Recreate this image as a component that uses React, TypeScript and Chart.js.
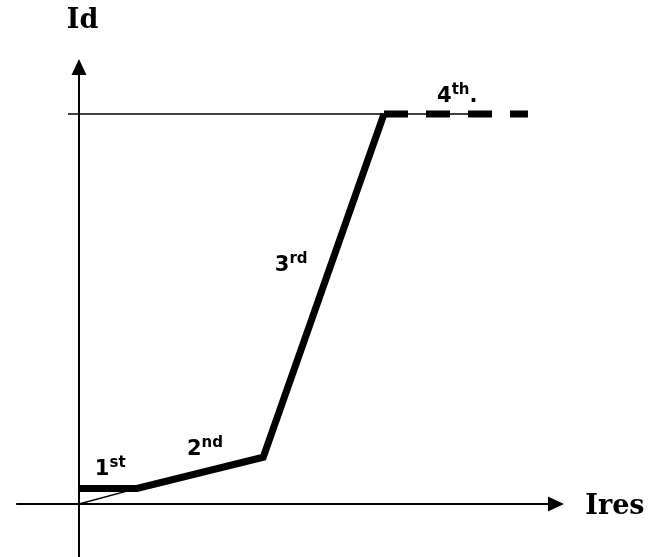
import React, { useEffect, useRef } from "react";
import { Chart, registerables } from "chart.js";

Chart.register(...registerables);

// Characteristic curve (Ires -> Id), in relative units
const curveIres = [0, 0.95, 3.02, 5.0];
const curveId = [0.4, 0.4, 1.2, 10];
// 4th slope (dashed continuation)
const dashIres = [5.0, 7.36];
const dashId = [10, 10];
// thin reference line from origin
const refIres = [0, 0.95];
const refId = [0, 0.4];
// thin horizontal limit line
const limitIres = [-0.18, 6.74];
const limitId = [10, 10];

// slope labels
const segmentMain = ["1", "2", "3", "4"];
const segmentSup = ["st", "nd", "rd", "th"];
const segmentTail = ["", "", "", "."];
const labelIres = [0.26, 1.77, 3.21, 5.87];
const labelId = [0.74, 1.26, 5.97, 10.31];

// axes
const xAxisTitle = "Ires";
const yAxisTitle = "Id";
const xAxisFrom = -1.03;
const xAxisTip = 7.95;
const yAxisFrom = -1.36;
const yAxisTip = 11.41;
const xTitlePos = [8.3, -0.26];
const yTitlePos = [-0.2, 12.2];

const toPts = (xs: number[], ys: number[]) => xs.map((x, i) => ({ x, y: ys[i] }));

const overlay = {
  id: "overlay",
  beforeDatasetsDraw(chart: any) {
    const { ctx, scales } = chart;
    const xs = scales.x;
    const ys = scales.y;
    const x0 = xs.getPixelForValue(0);
    const y0 = ys.getPixelForValue(0);
    ctx.save();
    ctx.strokeStyle = "#000";
    ctx.fillStyle = "#000";
    ctx.lineWidth = 2;
    // x axis
    const xl = xs.getPixelForValue(xAxisFrom);
    const xt = xs.getPixelForValue(xAxisTip);
    ctx.beginPath();
    ctx.moveTo(xl, y0);
    ctx.lineTo(xt - 14, y0);
    ctx.stroke();
    ctx.beginPath();
    ctx.moveTo(xt, y0);
    ctx.lineTo(xt - 16, y0 - 7.5);
    ctx.lineTo(xt - 16, y0 + 7.5);
    ctx.closePath();
    ctx.fill();
    // y axis
    const yb = ys.getPixelForValue(yAxisFrom);
    const yt = ys.getPixelForValue(yAxisTip);
    ctx.beginPath();
    ctx.moveTo(x0, yb);
    ctx.lineTo(x0, yt + 14);
    ctx.stroke();
    ctx.beginPath();
    ctx.moveTo(x0, yt);
    ctx.lineTo(x0 - 7.5, yt + 16);
    ctx.lineTo(x0 + 7.5, yt + 16);
    ctx.closePath();
    ctx.fill();
    ctx.restore();
  },
  afterDatasetsDraw(chart: any) {
    const { ctx, scales } = chart;
    const xs = scales.x;
    const ys = scales.y;
    ctx.save();
    ctx.fillStyle = "#000";
    ctx.textBaseline = "alphabetic";
    ctx.textAlign = "left";
    // axis titles
    ctx.font = "bold 27px 'DejaVu Serif'";
    ctx.fillText(xAxisTitle, xs.getPixelForValue(xTitlePos[0]), ys.getPixelForValue(xTitlePos[1]));
    ctx.fillText(yAxisTitle, xs.getPixelForValue(yTitlePos[0]), ys.getPixelForValue(yTitlePos[1]));
    // segment labels
    for (let i = 0; i < segmentMain.length; i++) {
      const px = xs.getPixelForValue(labelIres[i]);
      const py = ys.getPixelForValue(labelId[i]);
      ctx.font = "bold 21px 'DejaVu Sans'";
      ctx.fillText(segmentMain[i], px, py);
      let w = ctx.measureText(segmentMain[i]).width;
      ctx.font = "bold 15px 'DejaVu Sans'";
      ctx.fillText(segmentSup[i], px + w, py - 8);
      w += ctx.measureText(segmentSup[i]).width;
      if (segmentTail[i]) {
        ctx.font = "bold 21px 'DejaVu Sans'";
        ctx.fillText(segmentTail[i], px + w, py);
      }
    }
    ctx.restore();
  },
};

export default function App() {
  const ref = useRef<HTMLCanvasElement | null>(null);
  useEffect(() => {
    if (!ref.current) return;
    const chart = new Chart(ref.current, {
      type: "scatter",
      data: {
        datasets: [
          {
            data: toPts(limitIres, limitId),
            showLine: true,
            borderColor: "#000",
            borderWidth: 1.5,
            pointRadius: 0,
            clip: false,
          },
          {
            data: toPts(refIres, refId),
            showLine: true,
            borderColor: "#000",
            borderWidth: 1.5,
            pointRadius: 0,
            clip: false,
          },
          {
            data: toPts(curveIres, curveId),
            showLine: true,
            borderColor: "#000",
            borderWidth: 7,
            borderJoinStyle: "miter",
            borderCapStyle: "butt",
            pointRadius: 0,
            clip: false,
          },
          {
            data: toPts(dashIres, dashId),
            showLine: true,
            borderColor: "#000",
            borderWidth: 7,
            borderDash: [24, 18],
            borderCapStyle: "butt",
            pointRadius: 0,
            clip: false,
          },
        ],
      } as any,
      options: {
        animation: false,
        responsive: false,
        devicePixelRatio: 1,
        layout: { padding: 0 },
        plugins: { legend: { display: false }, tooltip: { enabled: false } },
        scales: {
          x: { type: "linear", display: false, min: -1.295, max: 9.492 },
          y: { type: "linear", display: false, min: -1.359, max: 12.923 },
        },
      } as any,
      plugins: [overlay],
    });
    return () => chart.destroy();
  }, []);
  return (
    <div style={{ position: "fixed", left: 0, top: 0, width: 658, height: 557, background: "#fff" }}>
      <canvas ref={ref} width={658} height={557} style={{ display: "block" }} />
    </div>
  );
}
